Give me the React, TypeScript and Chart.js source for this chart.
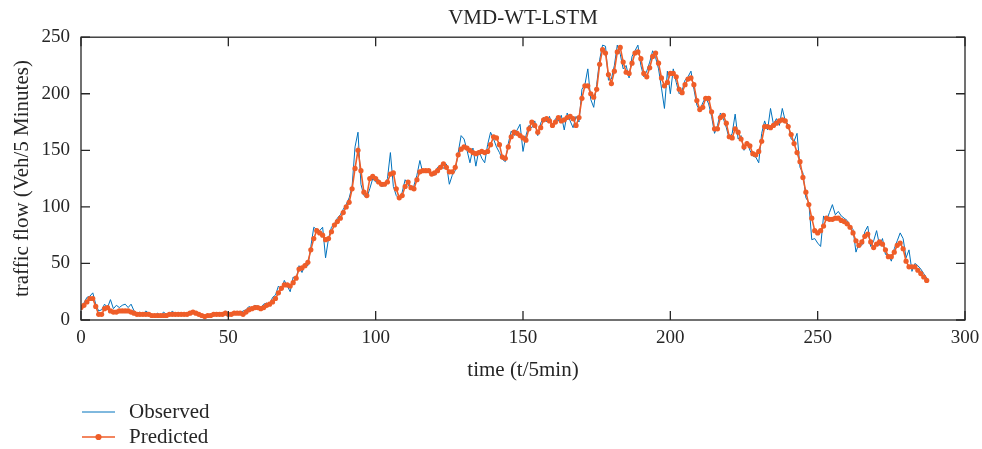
import React, { useEffect, useRef } from "react";
import { Chart, registerables } from "chart.js";

Chart.register(...registerables);

const TITLE = "VMD-WT-LSTM";
const X_LABEL = "time (t/5min)";
const Y_LABEL = "traffic flow (Veh/5 Minutes)";
const SERIES_NAMES = ["Observed", "Predicted"];
const X_TICKS = [0, 50, 100, 150, 200, 250, 300];
const Y_TICKS = [0, 50, 100, 150, 200, 250];

const observed = [
  12, 15, 20, 21, 24, 14, 8, 9, 14, 11, 18, 10, 13, 11, 13, 14, 11, 14, 8, 6,
  7, 5, 8, 6, 5, 4, 6, 4, 7, 5, 4, 8, 5, 6, 5, 6, 4, 7, 8, 5,
  6, 3, 4, 5, 3, 6, 4, 6, 5, 8, 4, 6, 5, 7, 6, 8, 9, 12, 10, 13,
  12, 11, 14, 15, 13, 20, 22, 30, 27, 35, 30, 25, 38, 36, 48, 42, 50, 48, 65, 82,
  80, 79, 82, 55, 72, 82, 85, 90, 93, 98, 102, 108, 118, 153, 166, 120, 110, 108, 116, 125,
  122, 124, 118, 119, 125, 148, 118, 110, 107, 113, 124, 120, 115, 119, 128, 141, 130, 133, 130, 128,
  128, 135, 137, 134, 138, 120, 128, 132, 148, 163, 160, 150, 139, 152, 136, 150, 143, 139, 155, 166,
  160, 153, 148, 142, 140, 156, 167, 163, 168, 173, 149, 163, 172, 170, 176, 163, 174, 179, 175, 180,
  170, 178, 176, 181, 168, 183, 176, 170, 180, 175, 204, 208, 222, 195, 188, 208, 230, 243, 242, 212,
  213, 225, 243, 235, 222, 225, 214, 233, 238, 243, 225, 215, 220, 228, 238, 232, 222, 205, 187, 220,
  200, 222, 210, 200, 203, 212, 215, 220, 204, 190, 185, 192, 197, 191, 180, 165, 172, 183, 178, 170,
  160, 165, 182, 160, 163, 150, 158, 150, 145, 144, 139, 165, 176, 168, 187, 173, 178, 172, 187, 176,
  173, 160, 158, 165, 135, 130, 108, 104, 71, 72, 68, 65, 92, 88, 95, 102, 93, 96, 92, 90,
  88, 83, 80, 60, 68, 66, 78, 83, 65, 70, 79, 66, 72, 58, 58, 52, 63, 70, 77, 72,
  55, 62, 43, 50, 48, 45, 41, 37,
];

const predicted = [
  11, 13, 16, 19, 19, 12, 5, 5, 10, 11, 8, 7, 7, 8, 8, 8, 8, 7, 6, 5,
  5, 5, 5, 5, 4, 4, 4, 4, 4, 4, 5, 5, 5, 5, 5, 5, 5, 6, 7, 6,
  5, 4, 3, 4, 4, 5, 5, 5, 5, 6, 5, 5, 6, 6, 6, 5, 7, 9, 10, 11,
  11, 10, 11, 13, 14, 16, 19, 24, 28, 31, 31, 30, 33, 37, 45, 46, 48, 51, 62, 72,
  79, 77, 75, 71, 72, 78, 84, 87, 90, 95, 100, 104, 116, 134, 150, 132, 113, 110, 125, 127,
  125, 122, 120, 120, 122, 129, 130, 116, 108, 110, 118, 122, 117, 116, 124, 131, 132, 132, 132, 129,
  130, 132, 135, 138, 135, 131, 131, 135, 146, 151, 153, 152, 150, 148, 147, 148, 149, 148, 149, 155,
  162, 161, 155, 144, 143, 153, 162, 166, 165, 163, 161, 159, 169, 175, 172, 166, 170, 177, 178, 176,
  172, 175, 179, 176, 177, 179, 180, 178, 172, 179, 196, 207, 207, 200, 197, 204, 226, 239, 236, 217,
  209, 220, 237, 241, 228, 219, 218, 227, 236, 237, 231, 218, 215, 223, 233, 236, 227, 214, 207, 210,
  218, 218, 215, 204, 201, 208, 213, 214, 208, 194, 186, 188, 196, 196, 184, 169, 169, 179, 181, 174,
  162, 161, 169, 166, 160, 153, 156, 154, 147, 146, 149, 158, 171, 171, 170, 172, 174, 176, 177, 176,
  171, 164, 156, 148, 140, 126, 113, 102, 90, 79, 77, 79, 83, 90, 89, 89, 90, 90, 88, 87,
  85, 82, 77, 70, 66, 69, 74, 76, 69, 64, 67, 69, 67, 62, 56, 56, 60, 66, 68, 63,
  52, 47, 47, 47, 44, 41, 38, 35,
];

const BLUE = "#0072BD";
const ORANGE = "#EF5D28";
const INK = "#262626";
const FONT = "'Liberation Serif', 'Times New Roman', serif";

const boxPlugin = {
  id: "matlabBox",
  afterDatasetsDraw(chart: any) {
    const { ctx, chartArea: a, scales } = chart;
    const x = scales.x;
    const y = scales.y;
    const L = 9;
    ctx.save();
    ctx.strokeStyle = INK;
    ctx.lineWidth = 1.3;
    ctx.strokeRect(a.left, a.top, a.right - a.left, a.bottom - a.top);
    ctx.beginPath();
    x.ticks.forEach((t: any) => {
      const px = x.getPixelForValue(t.value);
      ctx.moveTo(px, a.bottom);
      ctx.lineTo(px, a.bottom - L);
      ctx.moveTo(px, a.top);
      ctx.lineTo(px, a.top + L);
    });
    y.ticks.forEach((t: any) => {
      const py = y.getPixelForValue(t.value);
      ctx.moveTo(a.left, py);
      ctx.lineTo(a.left + L, py);
      ctx.moveTo(a.right, py);
      ctx.lineTo(a.right - L, py);
    });
    ctx.stroke();
    ctx.restore();
  },
  afterDraw(chart: any) {
    const { ctx } = chart;
    const items = chart.data.datasets;
    ctx.save();
    ctx.font = `21px ${FONT}`;
    ctx.textBaseline = "middle";
    const x0 = 82;
    const x1 = 115;
    const rows = [412, 437];
    items.forEach((d: any, i: number) => {
      const yy = rows[i];
      ctx.strokeStyle = d.borderColor;
      ctx.lineWidth = d.borderWidth;
      ctx.beginPath();
      ctx.moveTo(x0, yy);
      ctx.lineTo(x1, yy);
      ctx.stroke();
      if (d.pointRadius > 0) {
        ctx.fillStyle = d.pointBackgroundColor;
        ctx.beginPath();
        ctx.arc((x0 + x1) / 2, yy, d.pointRadius + 0.5, 0, Math.PI * 2);
        ctx.fill();
      }
      ctx.fillStyle = INK;
      ctx.fillText(d.label, 129, yy);
    });
    ctx.restore();
  },
};

export default function App() {
  const ref = useRef<HTMLCanvasElement | null>(null);

  useEffect(() => {
    document.body.style.margin = "0";
    const canvas = ref.current;
    if (!canvas) return;
    const time = observed.map((_, i) => i);
    const chart = new Chart(canvas, {
      type: "line",
      data: {
        datasets: [
          {
            label: SERIES_NAMES[0],
            data: time.map((t, i) => ({ x: t, y: observed[i] })),
            borderColor: BLUE,
            backgroundColor: BLUE,
            borderWidth: 1,
            pointRadius: 0,
            tension: 0,
            order: 1,
          },
          {
            label: SERIES_NAMES[1],
            data: time.map((t, i) => ({ x: t, y: predicted[i] })),
            borderColor: ORANGE,
            backgroundColor: ORANGE,
            pointBackgroundColor: ORANGE,
            pointBorderWidth: 0,
            borderWidth: 1.6,
            pointRadius: 2.6,
            tension: 0,
            order: 0,
          },
        ],
      },
      options: {
        animation: false,
        responsive: false,
        devicePixelRatio: 1,
        layout: { padding: { left: 0, right: 17, top: 0, bottom: 66 } },
        plugins: {
          legend: { display: false },
          tooltip: { enabled: false },
          title: {
            display: true,
            fullSize: false,
            text: TITLE,
            color: INK,
            font: { family: FONT, size: 21, weight: "normal" },
            padding: { top: 6, bottom: 6 },
          },
        },
        scales: {
          x: {
            type: "linear",
            min: X_TICKS[0],
            max: X_TICKS[X_TICKS.length - 1],
            afterBuildTicks: (s: any) => {
              s.ticks = X_TICKS.map((v) => ({ value: v }));
            },
            grid: { display: false, drawTicks: false },
            border: { display: false },
            ticks: {
              color: INK,
              padding: 7,
              maxRotation: 0,
              font: { family: FONT, size: 19 },
            },
            title: {
              display: true,
              text: X_LABEL,
              color: INK,
              font: { family: FONT, size: 21 },
              padding: { top: 0, bottom: 0 },
            },
            afterFit: (s: any) => {
              s.height = 63;
              s.paddingLeft = 0;
              s.paddingRight = 0;
            },
          },
          y: {
            type: "linear",
            min: Y_TICKS[0],
            max: Y_TICKS[Y_TICKS.length - 1],
            afterBuildTicks: (s: any) => {
              s.ticks = Y_TICKS.map((v) => ({ value: v }));
            },
            grid: { display: false, drawTicks: false },
            border: { display: false },
            ticks: {
              color: INK,
              padding: 11,
              font: { family: FONT, size: 19 },
            },
            title: {
              display: true,
              text: Y_LABEL,
              color: INK,
              font: { family: FONT, size: 21 },
              padding: { top: 10, bottom: 0 },
            },
            afterFit: (s: any) => {
              s.width = 81;
              s.paddingTop = 0;
              s.paddingBottom = 0;
            },
          },
        },
      },
      plugins: [boxPlugin],
    });
    return () => chart.destroy();
  }, []);

  return (
    <div style={{ width: 982, height: 449, background: "#fff" }}>
      <canvas ref={ref} width={982} height={449} style={{ display: "block", width: 982, height: 449 }} />
    </div>
  );
}
